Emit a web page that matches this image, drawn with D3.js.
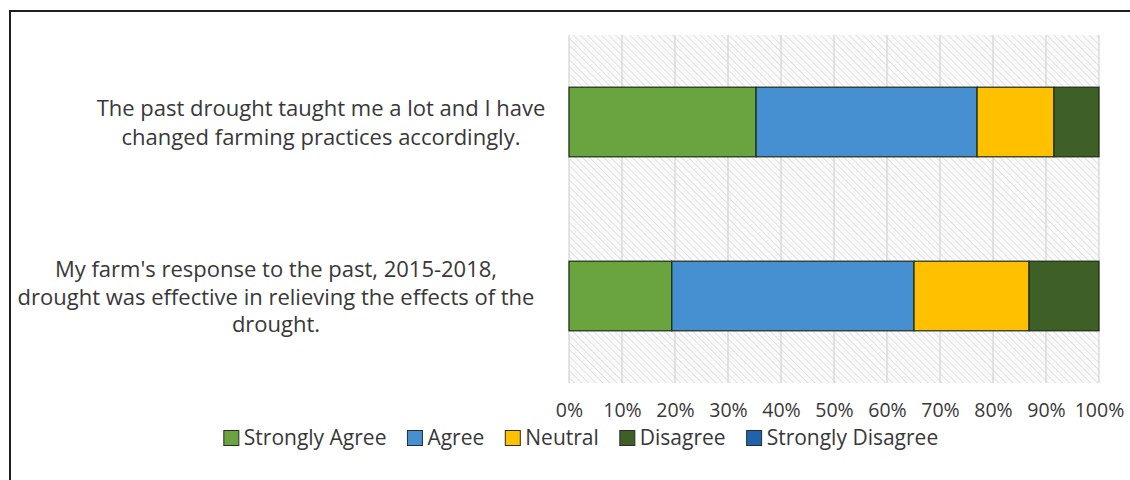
<!DOCTYPE html>
<html>
<head>
<meta charset="utf-8">
<script src="https://cdn.jsdelivr.net/npm/d3@7"></script>
<style>
  html, body { margin: 0; padding: 0; background: #ffffff; }
  svg { display: block; }
  text { font-family: "Open Sans", Lato, sans-serif; fill: #383838; }
</style>
</head>
<body>
<svg id="chart" width="1130" height="480"></svg>
<script>
// Survey statements (wrapped as they appear on the axis)
const categories = ["past-drought-lessons", "farm-response-2015-2018"];
const categoryLines = [
  ["The past drought taught me a lot and I have", "changed farming practices accordingly."],
  ["My farm's response to the past, 2015-2018,", "drought was effective in relieving the effects of the", "drought."]
];

// Response shares (%) per statement
const seriesNames = ["Strongly Agree", "Agree", "Neutral", "Disagree", "Strongly Disagree"];
const stronglyAgree = [35.3, 19.4];
const agree = [41.7, 45.7];
const neutral = [14.5, 21.7];
const disagree = [8.5, 13.2];
const stronglyDisagree = [0, 0];

const xTicks = [0, 10, 20, 30, 40, 50, 60, 70, 80, 90, 100];
const seriesColors = ["#6aa43f", "#4690d2", "#ffc000", "#3e5f26", "#1f62ad"];

const svg = d3.select("#chart");

// outer chart frame (only its top and left edges fall inside the view)
svg.append("rect")
  .attr("x", 10).attr("y", 11)
  .attr("width", 1200).attr("height", 600)
  .attr("fill", "#ffffff")
  .attr("stroke", "#1e1e1e").attr("stroke-width", 2);

const plot = { left: 569, right: 1099, top: 35, bottom: 383 };

const x = d3.scaleLinear().domain([0, 100]).range([plot.left, plot.right]);
const y = d3.scaleBand().domain(categories).range([plot.top, plot.bottom])
  .paddingInner(0.6).paddingOuter(0.3);

// diagonal hatch for the plot background
const defs = svg.append("defs");
const pat = defs.append("pattern")
  .attr("id", "hatch").attr("patternUnits", "userSpaceOnUse")
  .attr("width", 5).attr("height", 5)
  .attr("patternTransform", "rotate(-45)");
pat.append("rect").attr("width", 5).attr("height", 5).attr("fill", "#fafafa");
pat.append("line").attr("x1", 0).attr("y1", 0).attr("x2", 0).attr("y2", 5)
  .attr("stroke", "#dedede").attr("stroke-width", 1.6);

svg.append("rect")
  .attr("x", plot.left).attr("y", plot.top)
  .attr("width", plot.right - plot.left).attr("height", plot.bottom - plot.top)
  .attr("fill", "url(#hatch)");

// vertical gridlines
svg.append("g").selectAll("line").data(xTicks).join("line")
  .attr("x1", d => x(d)).attr("x2", d => x(d))
  .attr("y1", plot.top).attr("y2", plot.bottom)
  .attr("stroke", "#d6d6d6").attr("stroke-width", 1.3);

// stacked bars
const series = [stronglyAgree, agree, neutral, disagree, stronglyDisagree];
const rows = categories.map((c, i) => {
  const r = { cat: c };
  seriesNames.forEach((s, k) => { r[s] = series[k][i]; });
  return r;
});
const stacked = d3.stack().keys(seriesNames)(rows);

svg.append("g").selectAll("g").data(stacked).join("g")
  .attr("fill", (d, k) => seriesColors[k])
  .selectAll("rect").data(d => d.filter(v => v[1] - v[0] > 0)).join("rect")
  .attr("x", d => x(d[0]))
  .attr("width", d => x(d[1]) - x(d[0]))
  .attr("y", d => y(d.data.cat))
  .attr("height", y.bandwidth())
  .attr("stroke", "#1d2a14").attr("stroke-width", 1.2);

// x axis tick labels
const xAxis = d3.axisBottom(x).tickValues(xTicks).tickSize(0).tickPadding(0)
  .tickFormat(d => d + "%");
const gx = svg.append("g").attr("transform", `translate(0,${plot.bottom})`).call(xAxis);
gx.select(".domain").remove();
gx.selectAll("text")
  .attr("y", 27).attr("dy", "0.35em")
  .style("font-size", "19.5px").style("font-family", "'Open Sans', sans-serif").style("fill", "#383838");

// category labels, centred blocks to the left of the plot
const labelCenters = [321, 276];
const lineSteps = [29, 27.5];
const gy = svg.append("g");
categories.forEach((c, i) => {
  const lines = categoryLines[i];
  const cy = y(c) + y.bandwidth() / 2;
  const t = gy.append("text")
    .attr("text-anchor", "middle")
    .style("font-size", "22px");
  lines.forEach((ln, j) => {
    t.append("tspan")
      .attr("x", labelCenters[i])
      .attr("y", cy + 1 + (j - (lines.length - 1) / 2) * lineSteps[i])
      .attr("dy", "0.35em")
      .text(ln);
  });
});

// legend
const legend = svg.append("g").attr("transform", "translate(0,438)");
const items = legend.selectAll("g").data(seriesNames).join("g");
items.append("rect")
  .attr("x", 0).attr("y", -7.5).attr("width", 15).attr("height", 15)
  .attr("fill", (d, k) => seriesColors[k])
  .attr("stroke", "#2a2a2a").attr("stroke-width", 1);
items.append("text")
  .attr("x", 20).attr("dy", "0.35em")
  .style("font-size", "21px")
  .text(d => d);
let widths = [];
items.each(function () { widths.push(this.getBBox().width); });
const gap = 21;
const total = d3.sum(widths) + gap * (widths.length - 1);
let cx = 581 - total / 2;
items.attr("transform", (d, k) => {
  const tx = cx; cx += widths[k] + gap; return `translate(${tx},0)`;
});
</script>
</body>
</html>
